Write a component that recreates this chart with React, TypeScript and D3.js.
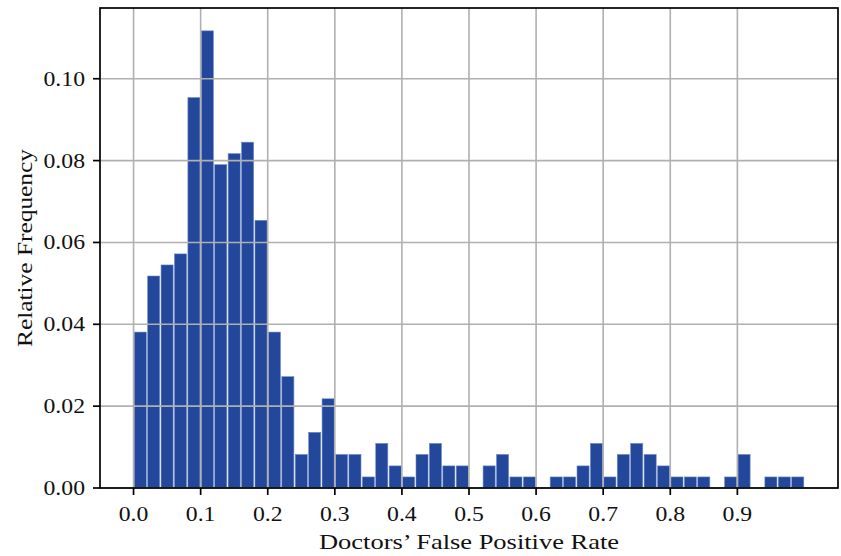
import React from "react";
import * as d3 from "d3";

// Histogram of doctors' false positive rates: 50 bins of width 0.02 on [0, 1]
const binStart = 0;
const binWidth = 0.02;
const relFreq = [
  0.0381, 0.0518, 0.0545, 0.0572, 0.0954, 0.1117, 0.079, 0.0817, 0.0845, 0.0654,
  0.0381, 0.0272, 0.0082, 0.0136, 0.0218, 0.0082, 0.0082, 0.0027, 0.0109, 0.0054,
  0.0027, 0.0082, 0.0109, 0.0054, 0.0054, 0.0, 0.0054, 0.0082, 0.0027, 0.0027,
  0.0, 0.0027, 0.0027, 0.0054, 0.0109, 0.0027, 0.0082, 0.0109, 0.0082, 0.0054,
  0.0027, 0.0027, 0.0027, 0.0, 0.0027, 0.0082, 0.0, 0.0027, 0.0027, 0.0027,
];
const xTicks = [0.0, 0.1, 0.2, 0.3, 0.4, 0.5, 0.6, 0.7, 0.8, 0.9];
const yTicks = [0.0, 0.02, 0.04, 0.06, 0.08, 0.1];
const xLabel = "Doctors\u2019 False Positive Rate";
const yLabel = "Relative Frequency";

const W = 841;
const H = 556;
const plot = { left: 100, right: 838, top: 8, bottom: 488 };
const barColor = "#22479b";
const gridColor = "#b0b0b0";
const font = "'Liberation Serif', 'DejaVu Serif', serif";
const fontSize = 21;
const stretch = 1.13; // widen the serif glyphs slightly

export default function App() {
  const x = d3.scaleLinear().domain([-0.05, 1.05]).range([plot.left, plot.right]);
  const yMax = (d3.max(relFreq) ?? 0) * 1.05;
  const y = d3.scaleLinear().domain([0, yMax]).range([plot.bottom, plot.top]);

  const bars = relFreq.map((v, i) => {
    const x0 = binStart + i * binWidth;
    const x1 = x0 + binWidth;
    const pad = (binWidth * 0.1) / 2;
    return { x0: x0 + pad, x1: x1 - pad, v };
  });

  return (
    <svg
      width={W}
      height={H}
      style={{ position: "absolute", left: 0, top: 0, background: "#fff" }}
      fontFamily={font}
    >
      <rect x={0} y={0} width={W} height={H} fill="#fff" />
      {/* bars */}
      <g>
        {bars
          .filter((b) => b.v > 0)
          .map((b, i) => (
            <rect
              key={i}
              x={x(b.x0)}
              y={y(b.v)}
              width={x(b.x1) - x(b.x0)}
              height={y(0) - y(b.v)}
              fill={barColor}
              stroke="#6f8ac4"
              strokeWidth={0.6}
            />
          ))}
      </g>
      {/* grid drawn above the bars */}
      <g stroke={gridColor} strokeWidth={1.6}>
        {xTicks.map((t) => (
          <line key={"gx" + t} x1={x(t)} x2={x(t)} y1={plot.top} y2={plot.bottom} />
        ))}
        {yTicks.map((t) => (
          <line key={"gy" + t} x1={plot.left} x2={plot.right} y1={y(t)} y2={y(t)} />
        ))}
      </g>
      {/* frame */}
      <rect
        x={plot.left}
        y={plot.top}
        width={plot.right - plot.left}
        height={plot.bottom - plot.top}
        fill="none"
        stroke="#000"
        strokeWidth={1.7}
      />
      {/* x ticks */}
      <g>
        {xTicks.map((t) => (
          <g key={"xt" + t}>
            <line x1={x(t)} x2={x(t)} y1={plot.bottom} y2={plot.bottom + 7} stroke="#000" strokeWidth={1.7} />
            <g transform={`translate(${x(t)}, ${plot.bottom + 33}) scale(${stretch}, 1)`}>
              <text textAnchor="middle" fontSize={fontSize} fill="#111">
                {t.toFixed(1)}
              </text>
            </g>
          </g>
        ))}
      </g>
      {/* y ticks */}
      <g>
        {yTicks.map((t) => (
          <g key={"yt" + t}>
            <line x1={plot.left - 7} x2={plot.left} y1={y(t)} y2={y(t)} stroke="#000" strokeWidth={1.7} />
            <g transform={`translate(${plot.left - 15}, ${y(t) + 7}) scale(${stretch}, 1)`}>
              <text textAnchor="end" fontSize={fontSize} fill="#111">
                {t.toFixed(2)}
              </text>
            </g>
          </g>
        ))}
      </g>
      <text
        x={(plot.left + plot.right) / 2}
        y={549}
        textAnchor="middle"
        fontSize={fontSize}
        fill="#111"
        textLength={300}
        lengthAdjust="spacingAndGlyphs"
      >
        {xLabel}
      </text>
      <text
        transform={`translate(32, ${(plot.top + plot.bottom) / 2}) rotate(-90)`}
        textAnchor="middle"
        fontSize={fontSize}
        fill="#111"
        textLength={198}
        lengthAdjust="spacingAndGlyphs"
      >
        {yLabel}
      </text>
    </svg>
  );
}
